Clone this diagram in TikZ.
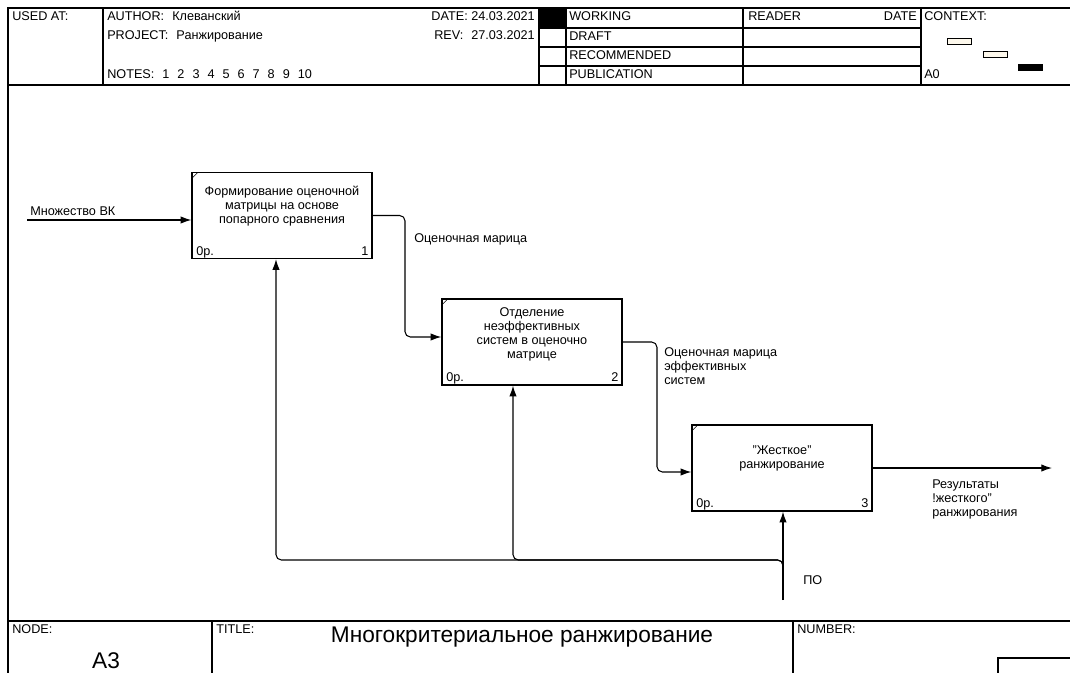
\documentclass[tikz,border=0pt]{standalone}
\usepackage{fontspec}
\setmainfont{Liberation Sans}
\usetikzlibrary{arrows.meta}
\definecolor{ctxfill}{RGB}{253,248,236}

\begin{document}
\begin{tikzpicture}[x=0.75pt,y=-0.75pt,
        frame/.style={line width=0.9pt},
        hdr/.style={font=\fontsize{9.5}{10.5}\selectfont,inner sep=0pt,anchor=base west},
        lbl/.style={hdr,align=left},
        func/.style={draw,line width=1pt,inner sep=0pt,minimum width=135pt,minimum height=64.5pt},
        boxtxt/.style={font=\fontsize{9.5}{10.5}\selectfont,inner sep=0pt,align=center},
        flow/.style={line width=0.8pt,-{Latex[length=8pt,width=5.5pt]}},
        big/.style={font=\fontsize{17}{19}\selectfont,inner sep=0pt,anchor=base}]
                \useasboundingbox (0,0) rectangle (1070,673);
                \draw[frame] (8,673) -- (8,8) -- (1070,8);
                \draw[frame] (8,85) -- (1070,85);
                \draw[frame] (103,8) -- (103,85);
                \draw[frame] (539,8) -- (539,85);
                \draw[frame] (566,8) -- (566,85);
                \draw[frame] (743,8) -- (743,85);
                \draw[frame] (921,8) -- (921,85);
                \foreach \y in {28,47,66}
                    \draw[frame] (539,\y) -- (921,\y);
                \fill (539,8) rectangle (566,28);
                \draw[fill=ctxfill] (947,38) rectangle (971,44);
                \draw[fill=ctxfill] (983,51) rectangle (1007,57);
                \fill (1018,64) rectangle (1043,71);
                \node[hdr] (usedat) at (12,21) {USED AT:};
                \node[hdr] (author) at (107,21) {AUTHOR:\hspace{6pt}Клеванский};
                \node[hdr] (project) at (107,40) {PROJECT:\hspace{6pt}Ранжирование};
                \node[hdr] (notes) at (107,79) {NOTES:\hspace{6pt}1\hspace{6pt}2\hspace{6pt}3\hspace{6pt}4\hspace{6pt}5\hspace{6pt}6\hspace{6pt}7\hspace{6pt}8\hspace{6pt}9\hspace{6pt}10};
                \node[hdr,anchor=base east] (date) at (535,21) {DATE: 24.03.2021};
                \node[hdr,anchor=base east] (rev) at (535,40) {REV:\hspace{6pt}27.03.2021};
                \node[hdr] (working) at (569,21) {WORKING};
                \node[hdr] (draft) at (569,41) {DRAFT};
                \node[hdr] (recommended) at (569,60) {RECOMMENDED};
                \node[hdr] (publication) at (569,79) {PUBLICATION};
                \node[hdr] (reader) at (748,21) {READER};
                \node[hdr,anchor=base east] (rdate) at (917,21) {DATE};
                \node[hdr] (context) at (924,21) {CONTEXT:};
                \node[hdr] (ctxnode) at (924,79) {A0};
                \draw[frame] (8,621) -- (1070,621);
                \draw[frame] (212,621) -- (212,673);
                \draw[frame] (793,621) -- (793,673);
                \draw[frame] (998,673) -- (998,658) -- (1070,658);
                \node[hdr] (nodelbl) at (12,633) {NODE:};
                \node[hdr] (titlelbl) at (216,633) {TITLE:};
                \node[hdr] (numberlbl) at (797,633) {NUMBER:};
                \node[big] (nodeno) at (106,668) {A3};
                \node[big] (title) at (522,642) {Многокритериальное ранжирование};
                \node[func] (b1) at (282,215.5) {};
                \node[func] (b2) at (532,342) {};
                \node[func] (b3) at (782,468) {};
                \foreach \b/\n in {b1/1,b2/2,b3/3} {
                    \draw (\b.north west) ++(1,6) -- ++(5,-5);
                    \node[hdr] (p\n) at ([xshift=3.5pt,yshift=3pt]\b.south west) {0p.};
                    \node[hdr,anchor=base east] (n\n) at ([xshift=-3pt,yshift=3pt]\b.south east) {\n};
                }
                \node[boxtxt] (t1) at ([yshift=7pt]b1.center) {Формирование оценочной\\матрицы на основе\\попарного сравнения};
                \node[boxtxt] (t2) at ([yshift=6pt]b2.center) {Отделение\\неэффективных\\систем в оценочно\\матрице};
                \node[boxtxt] (t3) at ([yshift=7.5pt]b3.center) {"Жесткое"\\ранжирование};
                \coordinate (in1) at (27,220);
                \coordinate (e1) at (405,337);
                \coordinate (e2) at (657,472);
                \coordinate (out3) at (1052,468);
                \coordinate (mech) at (783,600);
                \coordinate (split) at (783,575);
                \coordinate (m1) at (276,560);
                \coordinate (m2) at (513,560);
                \draw[flow] (in1) -- (in1 -| b1.west);
                \draw[flow,rounded corners=4] (b1.east) -| (e1) -- (e1 -| b2.west);
                \draw[flow,rounded corners=4] (b2.east) -| (e2) -- (e2 -| b3.west);
                \draw[flow] (b3.east) -- (out3);
                \draw[flow] (mech) -- (mech |- b3.south);
                \draw[flow,rounded corners=4] (split) |- (m1) -- (m1 |- b1.south);
                \draw[flow,rounded corners=4] (split) |- (m2) -- (m2 |- b2.south);
                \node[lbl] (l1) at (30,216) {Множество ВК};
                \node[lbl] (l2) at (414,243) {Оценочная марица};
                \node[lbl] (l3) at (664,384) {Оценочная марица\\эффективных\\систем};
                \node[lbl] (l4) at (932,516) {Результаты\\!жесткого"\\ранжирования};
                \node[lbl] (l5) at (803,584) {ПО};
            \end{tikzpicture}
\end{document}
